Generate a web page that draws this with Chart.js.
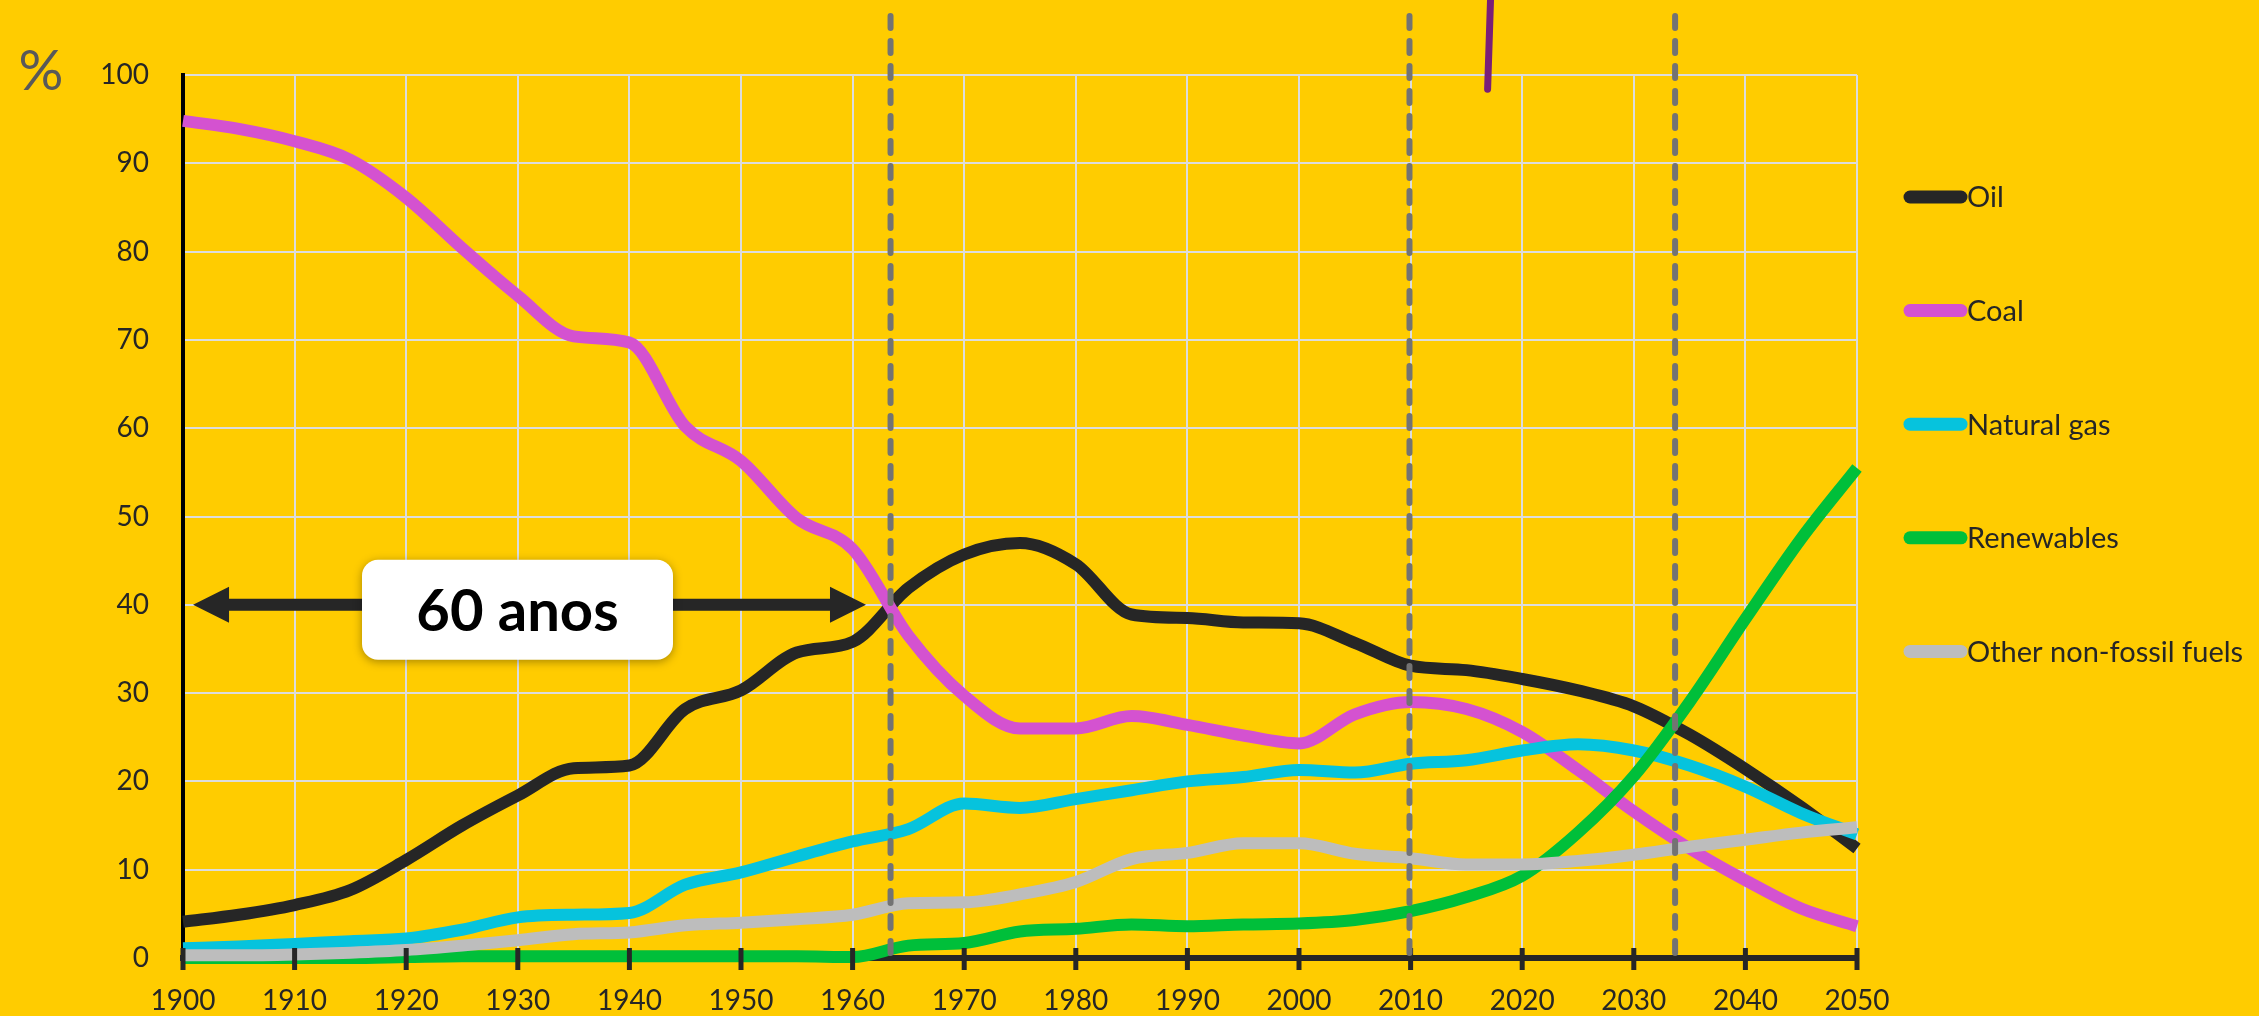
<!DOCTYPE html>
<html lang="en">

<head>
    <meta charset="UTF-8">
    <title>Energy sources share 1900-2050</title>
    <script src="https://cdn.jsdelivr.net/npm/chart.js"></script>
    <style>
        html, body {
            margin: 0;
            padding: 0;
            background-color: #FFCC00;
        }

        .chart-container {
            position: relative;
            width: 2259px;
            height: 1016px;
        }
    </style>
</head>

<body>
    <div class="chart-container">
        <canvas id="energyChart"></canvas>
    </div>

    <script>
        // Share of world energy supply (%)
        const years = [1900, 1905, 1910, 1915, 1920, 1925, 1930, 1935, 1940, 1945, 1950, 1955, 1960, 1965, 1970,
            1975, 1980, 1985, 1990, 1995, 2000, 2005, 2010, 2015, 2020, 2025, 2030, 2035, 2040, 2045, 2050];

        const oil = [4.1, 4.9, 6.0, 7.7, 11.1, 15.0, 18.4, 21.5, 21.8, 28.2, 30.3, 34.6, 35.8, 41.9, 45.7,
            47.0, 44.6, 38.9, 38.5, 38.0, 37.9, 35.7, 33.1, 32.6, 31.6, 30.3, 28.5, 25.3, 21.4, 17.1, 12.4];
        const coal = [94.8, 93.9, 92.5, 90.4, 86.1, 80.4, 75.0, 70.4, 69.7, 60.2, 56.3, 49.8, 46.3, 36.5, 29.7,
            26.0, 26.0, 27.4, 26.4, 25.2, 24.3, 27.6, 29.0, 28.2, 25.6, 21.3, 16.6, 12.4, 8.8, 5.6, 3.6];
        const naturalGas = [1.1, 1.3, 1.6, 1.9, 2.2, 3.2, 4.6, 4.9, 5.1, 8.3, 9.7, 11.5, 13.2, 14.6, 17.5,
            17.0, 18.0, 19.0, 20.0, 20.5, 21.3, 21.0, 22.0, 22.4, 23.5, 24.2, 23.5, 21.8, 19.4, 16.4, 14.0];
        const renewables = [0, 0, 0, 0, 0.1, 0.2, 0.2, 0.2, 0.2, 0.2, 0.2, 0.2, 0.1, 1.4, 1.7,
            3.0, 3.3, 3.8, 3.6, 3.8, 3.9, 4.3, 5.3, 6.9, 9.3, 14.2, 20.6, 29.0, 38.4, 47.5, 55.5];
        const otherNonFossil = [0.3, 0.3, 0.4, 0.6, 0.9, 1.4, 2.0, 2.7, 2.9, 3.7, 4.0, 4.4, 4.9, 6.2, 6.3,
            7.2, 8.6, 11.2, 11.9, 13.0, 13.0, 11.8, 11.3, 10.6, 10.6, 11.0, 11.7, 12.6, 13.4, 14.2, 14.8];

        const seriesNames = ['Oil', 'Coal', 'Natural gas', 'Renewables', 'Other non-fossil fuels'];
        const seriesColors = ['#262626', '#D452D0', '#06C3DD', '#00BF3A', '#BDBDBD'];
        const seriesValues = [oil, coal, naturalGas, renewables, otherNonFossil];

        // annotations
        const markerYears = [1963.4, 2009.9, 2033.7];
        const spanStart = 1900.9;
        const spanEnd = 1961.2;
        const spanLevel = 40;
        const spanLabel = '60 anos';

        Chart.defaults.font.family = 'Lato, "Open Sans", sans-serif';

        const datasets = seriesValues.map((values, i) => ({
            label: seriesNames[i],
            data: values.map((v, j) => ({ x: years[j], y: v })),
            borderColor: seriesColors[i],
            backgroundColor: seriesColors[i],
            borderWidth: 12,
            pointRadius: 0,
            cubicInterpolationMode: 'monotone',
            borderCapStyle: 'butt',
            borderJoinStyle: 'round',
            clip: false,
            order: seriesNames.length - i
        }));

        // "%" label
        const unitLabel = {
            id: 'unitLabel',
            afterDraw(chart) {
                const ctx = chart.ctx;
                ctx.save();
                ctx.fillStyle = '#595959';
                ctx.font = '56px Lato, sans-serif';
                ctx.textAlign = 'center';
                ctx.textBaseline = 'middle';
                ctx.fillText('%', 41, 72);
                ctx.restore();
            }
        };

        // crossing tick marks on the x axis
        const axisTicks = {
            id: 'axisTicks',
            afterDatasetsDraw(chart) {
                const ctx = chart.ctx;
                const xs = chart.scales.x;
                const yb = chart.chartArea.bottom;
                ctx.save();
                ctx.strokeStyle = '#262626';
                ctx.lineWidth = 5;
                xs.ticks.forEach(t => {
                    const x = xs.getPixelForValue(t.value);
                    ctx.beginPath();
                    ctx.moveTo(x, yb - 10);
                    ctx.lineTo(x, yb + 12);
                    ctx.stroke();
                });
                ctx.restore();
            }
        };

        // dashed markers, purple pointer, 60-year arrow and box
        const annotations = {
            id: 'annotations',
            afterDatasetsDraw(chart) {
                const ctx = chart.ctx;
                const xs = chart.scales.x;
                const ys = chart.scales.y;
                ctx.save();

                ctx.strokeStyle = '#737373';
                ctx.lineWidth = 6;
                ctx.lineCap = 'round';
                ctx.setLineDash([12, 13]);
                markerYears.forEach(yr => {
                    const x = xs.getPixelForValue(yr);
                    ctx.beginPath();
                    ctx.moveTo(x, 16);
                    ctx.lineTo(x, chart.chartArea.bottom + 6);
                    ctx.stroke();
                });
                ctx.setLineDash([]);

                ctx.strokeStyle = '#7A1F78';
                ctx.lineWidth = 7;
                ctx.beginPath();
                ctx.moveTo(xs.getPixelForValue(2017.2), ys.getPixelForValue(110));
                ctx.lineTo(xs.getPixelForValue(2016.9), ys.getPixelForValue(98.4));
                ctx.stroke();

                // double arrow
                const ay = ys.getPixelForValue(spanLevel);
                const x1 = xs.getPixelForValue(spanStart);
                const x2 = xs.getPixelForValue(spanEnd);
                const headLen = 36, headHalf = 18, shaft = 6;
                ctx.fillStyle = '#262626';
                ctx.beginPath();
                ctx.moveTo(x1, ay);
                ctx.lineTo(x1 + headLen, ay - headHalf);
                ctx.lineTo(x1 + headLen, ay - shaft);
                ctx.lineTo(x2 - headLen, ay - shaft);
                ctx.lineTo(x2 - headLen, ay - headHalf);
                ctx.lineTo(x2, ay);
                ctx.lineTo(x2 - headLen, ay + headHalf);
                ctx.lineTo(x2 - headLen, ay + shaft);
                ctx.lineTo(x1 + headLen, ay + shaft);
                ctx.lineTo(x1 + headLen, ay + headHalf);
                ctx.closePath();
                ctx.fill();

                // label box
                const bx = 362, bw = 311, bh = 100;
                const by = ay - 45;
                ctx.shadowColor = 'rgba(0, 0, 0, 0.35)';
                ctx.shadowBlur = 10;
                ctx.shadowOffsetY = 2;
                ctx.fillStyle = '#ffffff';
                ctx.beginPath();
                ctx.roundRect(bx, by, bw, bh, 16);
                ctx.fill();
                ctx.shadowColor = 'transparent';
                ctx.fillStyle = '#000000';
                ctx.font = 'bold 58px Lato, sans-serif';
                ctx.textAlign = 'center';
                ctx.textBaseline = 'middle';
                ctx.fillText(spanLabel, bx + bw / 2, by + bh / 2 + 2);

                ctx.restore();
            }
        };

        // legend on the right
        const sideLegend = {
            id: 'sideLegend',
            afterDraw(chart) {
                const ctx = chart.ctx;
                ctx.save();
                ctx.lineWidth = 13;
                ctx.lineCap = 'round';
                ctx.font = '29px Lato, sans-serif';
                ctx.textBaseline = 'middle';
                ctx.fillStyle = '#262626';
                seriesNames.forEach((name, i) => {
                    const y = 197 + i * 113.6;
                    ctx.strokeStyle = seriesColors[i];
                    ctx.beginPath();
                    ctx.moveTo(1910, y);
                    ctx.lineTo(1961, y);
                    ctx.stroke();
                    ctx.fillText(name, 1967, y + 1);
                });
                ctx.restore();
            }
        };

        const ctx = document.getElementById('energyChart').getContext('2d');
        new Chart(ctx, {
            type: 'line',
            data: { datasets: datasets },
            options: {
                responsive: true,
                maintainAspectRatio: false,
                animation: false,
                events: [],
                layout: { padding: { top: 75, right: 402, left: 0, bottom: 0 } },
                plugins: {
                    legend: { display: false },
                    tooltip: { enabled: false }
                },
                scales: {
                    x: {
                        type: 'linear',
                        min: 1900,
                        max: 2050,
                        afterFit(scale) { scale.height = 58; },
                        ticks: {
                            stepSize: 10,
                            padding: 26,
                            color: '#262626',
                            font: { size: 28 },
                            maxRotation: 0,
                            callback: v => String(v)
                        },
                        grid: { color: '#DCDCDC', lineWidth: 2, drawTicks: false },
                        border: { color: '#262626', width: 6 }
                    },
                    y: {
                        min: 0,
                        max: 100,
                        afterFit(scale) { scale.width = 183; },
                        ticks: {
                            stepSize: 10,
                            padding: 34,
                            color: '#262626',
                            font: { size: 28 }
                        },
                        grid: { color: '#DCDCDC', lineWidth: 2, drawTicks: false },
                        border: { color: '#000000', width: 4 }
                    }
                }
            },
            plugins: [unitLabel, axisTicks, annotations, sideLegend]
        });
    </script>
</body>

</html>
